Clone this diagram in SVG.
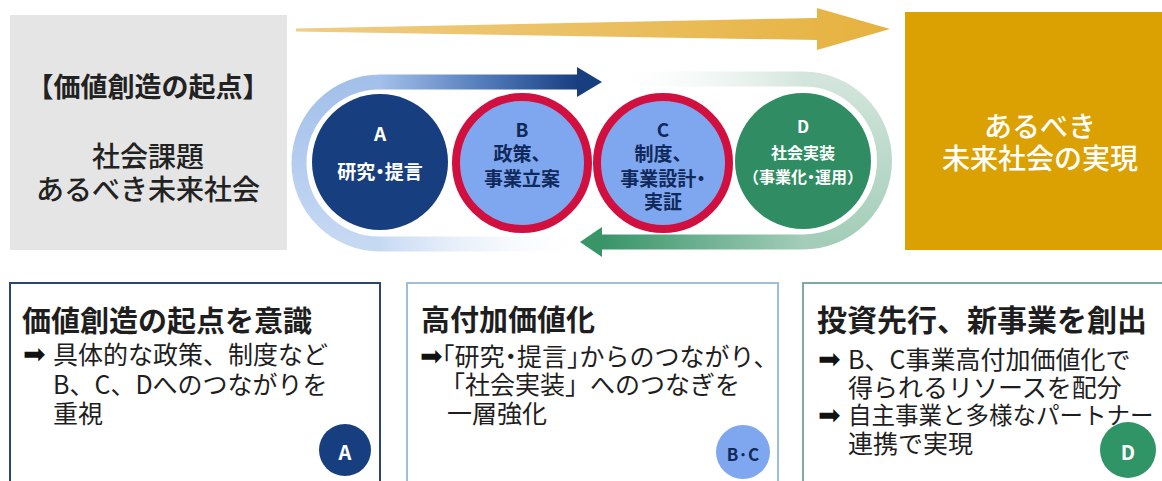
<svg xmlns="http://www.w3.org/2000/svg" width="1162" height="481" viewBox="0 0 1162 481">
<style>
text{font-family:"Noto Sans CJK JP","Noto Sans",sans-serif;}
.ctr{text-anchor:middle;dominant-baseline:central;}
.lft{dominant-baseline:central;}
.dk{fill:#222222;}
.wt{fill:#ffffff;}
.nv{fill:#10295a;}
.ttl{font-size:29px;font-weight:700;fill:#1e1e1e;}
.bul{font-size:25px;fill:#1e1e1e;}
.arr{font-family:"DejaVu Sans",sans-serif;font-size:27px;fill:#111111;}
.halt{font-feature-settings:"halt";}
.circ{font-weight:700;}
</style>
<defs>
<linearGradient id="gGold" x1="296" y1="0" x2="890" y2="0" gradientUnits="userSpaceOnUse">
<stop offset="0" stop-color="#efcd84"/><stop offset="1" stop-color="#e6b23f"/>
</linearGradient>
<linearGradient id="gBlueBot" x1="380" y1="0" x2="595" y2="0" gradientUnits="userSpaceOnUse">
<stop offset="0" stop-color="#c6d9f3"/><stop offset="1" stop-color="#ffffff" stop-opacity="0"/>
</linearGradient>
<linearGradient id="gBlueArc" x1="0" y1="244" x2="0" y2="82" gradientUnits="userSpaceOnUse">
<stop offset="0" stop-color="#c6d9f3"/><stop offset="1" stop-color="#a3c0ea"/>
</linearGradient>
<linearGradient id="gBlueTop" x1="380" y1="0" x2="578" y2="0" gradientUnits="userSpaceOnUse">
<stop offset="0" stop-color="#a3c0ea"/><stop offset="0.55" stop-color="#4f78b8"/><stop offset="1" stop-color="#173f7f"/>
</linearGradient>
<linearGradient id="gGreenTop" x1="600" y1="0" x2="803" y2="0" gradientUnits="userSpaceOnUse">
<stop offset="0" stop-color="#ffffff" stop-opacity="0"/><stop offset="1" stop-color="#d3e5dc"/>
</linearGradient>
<linearGradient id="gGreenArc" x1="0" y1="79" x2="0" y2="242" gradientUnits="userSpaceOnUse">
<stop offset="0" stop-color="#d3e5dc"/><stop offset="1" stop-color="#a3cdb9"/>
</linearGradient>
<linearGradient id="gGreenBot" x1="803" y1="0" x2="602" y2="0" gradientUnits="userSpaceOnUse">
<stop offset="0" stop-color="#a3cdb9"/><stop offset="1" stop-color="#389568"/>
</linearGradient>
</defs>

<g id="start-box">
<rect x="10" y="15" width="277" height="235" fill="#e5e5e5"/>
<text class="ctr dk" x="148" y="85" font-size="27" font-weight="700">【価値創造の起点】</text>
<text class="ctr dk" x="148" y="155" font-size="28" font-weight="500">社会課題</text>
<text class="ctr dk" x="148" y="188" font-size="28" font-weight="500">あるべき未来社会</text>
</g>

<g id="goal-box">
<rect x="905" y="12" width="257" height="238" fill="#dba102"/>
<text class="ctr wt" x="1040" y="125" font-size="28" font-weight="500">あるべき</text>
<text class="ctr wt" x="1040" y="157" font-size="28" font-weight="500">未来社会の実現</text>
</g>

<g id="connectors">
<polygon points="296,28.5 817,18 817,8 890,29 817,50 817,40 296,31.5" fill="url(#gGold)"/>
<g fill="none" stroke-width="15">
<path d="M595,244 H380" stroke="url(#gBlueBot)"/>
<path d="M380,244 A81,81 0 0 1 380,82" stroke="url(#gBlueArc)"/>
<path d="M380,82 H579" stroke="url(#gBlueTop)"/>
<path d="M600,79 H803" stroke="url(#gGreenTop)"/>
<path d="M803,79 A81.5,81.5 0 0 1 803,242" stroke="url(#gGreenArc)"/>
<path d="M803,242 H601" stroke="url(#gGreenBot)"/>
</g>
<polygon points="577,67 602,82 577,97" fill="#173f7f"/>
<polygon points="602,227 580,242 602,257" fill="#389568"/>
</g>

<g id="node-a">
<circle cx="380" cy="162" r="68" fill="#173f7f"/>
<text class="ctr wt circ" x="380" y="132" font-size="19">A</text>
<text class="ctr wt circ halt" x="380" y="170" font-size="19">研究・提言</text>
</g>

<g id="node-b">
<circle cx="522" cy="163" r="66" fill="#7ea7ef" stroke="#d2103f" stroke-width="8"/>
<text class="ctr nv circ" x="522" y="128" font-size="19">B</text>
<text class="ctr nv circ" x="522" y="152" font-size="19">政策、</text>
<text class="ctr nv circ" x="522" y="177" font-size="19">事業立案</text>
</g>

<g id="node-c">
<circle cx="663" cy="163" r="66" fill="#7ea7ef" stroke="#d2103f" stroke-width="8"/>
<text class="ctr nv circ" x="663" y="128" font-size="19">C</text>
<text class="ctr nv circ" x="663" y="152" font-size="19">制度、</text>
<text class="ctr nv circ halt" x="663" y="177" font-size="19">事業設計・</text>
<text class="ctr nv circ" x="663" y="200" font-size="19">実証</text>
</g>

<g id="node-d">
<circle cx="803" cy="161" r="68" fill="#2f8c63"/>
<text class="ctr wt circ" x="803" y="125" font-size="17">D</text>
<text class="ctr wt circ" x="803" y="152" font-size="16">社会実装</text>
<text class="ctr wt circ halt" x="803" y="176" font-size="16">（事業化・運用）</text>
</g>

<g id="box-a">
<rect x="10" y="283" width="370" height="220" fill="#ffffff" stroke="#2a4570" stroke-width="2"/>
<text class="lft ttl" x="22" y="319">価値創造の起点を意識</text>
<text class="lft arr" x="23" y="353">➡</text>
<text class="lft bul" x="53" y="353">具体的な政策、制度など</text>
<text class="lft bul" x="53" y="383">B、C、Dへのつながりを</text>
<text class="lft bul" x="53" y="412">重視</text>
<circle cx="345" cy="450" r="26" fill="#173f7f"/>
<text class="ctr wt circ" x="345" y="451" font-size="20">A</text>
</g>

<g id="box-bc">
<rect x="407" y="283" width="371" height="220" fill="#ffffff" stroke="#9cc0dc" stroke-width="2"/>
<text class="lft ttl" x="421" y="318">高付加価値化</text>
<text class="lft arr" x="420" y="355">➡</text>
<text class="lft bul halt" x="442" y="355">「研究・提言」からのつながり、</text>
<text class="lft bul" x="440" y="383">「社会実装」へのつなぎを</text>
<text class="lft bul" x="447" y="412">一層強化</text>
<circle cx="743" cy="452" r="27" fill="#7ea7ef"/>
<text class="ctr nv circ" x="743" y="453" font-size="17">B·C</text>
</g>

<g id="box-d">
<rect x="803" y="283" width="370" height="220" fill="#ffffff" stroke="#78ad9f" stroke-width="2"/>
<text class="lft ttl" x="817" y="318" style="font-size:30px">投資先行、新事業を創出</text>
<text class="lft arr" x="818" y="358">➡</text>
<text class="lft bul" x="848" y="358">B、C事業高付加価値化で</text>
<text class="lft bul" x="848" y="386">得られるリソースを配分</text>
<text class="lft arr" x="818" y="414">➡</text>
<text class="lft bul" x="848" y="414" style="font-size:23.5px">自主事業と多様なパートナー</text>
<text class="lft bul" x="848" y="442">連携で実現</text>
<circle cx="1128" cy="450" r="28" fill="#2f9466"/>
<text class="ctr wt circ" x="1128" y="451" font-size="20">D</text>
</g>
</svg>
